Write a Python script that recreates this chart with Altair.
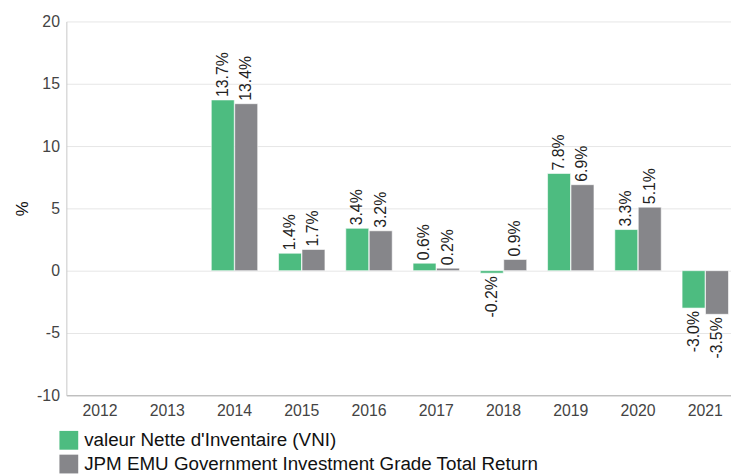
import altair as alt
import pandas as pd

years = ["2012", "2013", "2014", "2015", "2016", "2017", "2018", "2019", "2020", "2021"]
series_names = ["valeur Nette d'Inventaire (VNI)", "JPM EMU Government Investment Grade Total Return"]
vni = [None, None, 13.7, 1.4, 3.4, 0.6, -0.2, 7.8, 3.3, -3.0]
bench = [None, None, 13.4, 1.7, 3.2, 0.2, 0.9, 6.9, 5.1, -3.5]
colors = ["#4dbc80", "#86868a"]
y_ticks = [-10, -5, 0, 5, 10, 15, 20]

rows = []
for i, yr in enumerate(years):
    for name, vals in zip(series_names, [vni, bench]):
        if vals[i] is not None:
            rows.append({"year": yr, "series": name, "value": vals[i]})
df = pd.DataFrame(rows)

FONT = "Liberation Sans"

x_enc = alt.X("year:N", sort=years,
              scale=alt.Scale(domain=years, range=[0, 680], paddingInner=0.31, paddingOuter=0.155),
              axis=alt.Axis(title=None, labelAngle=0, labelFontSize=16, labelColor="#444",
                            labelFont=FONT, ticks=False, domainColor="#aaaaaa", labelPadding=7,
                            grid=False))
xo_enc = alt.XOffset("series:N", sort=series_names, scale=alt.Scale(domain=series_names, paddingInner=0.02))
y_enc = alt.Y("value:Q", scale=alt.Scale(domain=[-10, 20], nice=False),
              axis=alt.Axis(title="%", values=y_ticks, labelFontSize=16, labelColor="#444",
                            labelFont=FONT, ticks=False, domainColor="#c8c8c8", gridColor="#e6e6e6",
                            labelPadding=7, titleFont=FONT, titleFontSize=17, titleFontWeight="normal",
                            titleColor="#111", titlePadding=5,
                            labelExpr="replace(datum.label, '\u2212', '-')"))

bars = alt.Chart(df).mark_bar(stroke="white", strokeWidth=0.6).encode(
    x=x_enc, xOffset=xo_enc, y=y_enc,
    color=alt.Color("series:N", sort=series_names,
                    scale=alt.Scale(domain=series_names, range=colors),
                    legend=alt.Legend(title=None, orient="none", legendX=-7, legendY=414,
                                      symbolType="square", symbolSize=361, symbolStrokeWidth=0,
                                      symbolOpacity=1, labelFontSize=19, labelFont=FONT,
                                      labelColor="#111", rowPadding=4, labelOffset=6,
                                      labelLimit=700, direction="vertical")),
)

base_text = alt.Chart(df).transform_calculate(
    label="replace(format(datum.value, '.1f'), '\u2212', '-') + '%'"
)
pos_text = base_text.transform_filter("datum.value >= 0").mark_text(
    angle=270, align="left", baseline="middle", dx=3, fontSize=16, font=FONT, color="#222"
).encode(x=alt.X("year:N", sort=years), xOffset=alt.XOffset("series:N", sort=series_names),
         y="value:Q", text="label:N")
neg_text = base_text.transform_filter("datum.value < 0").mark_text(
    angle=270, align="right", baseline="middle", dx=-3, fontSize=16, font=FONT, color="#222"
).encode(x=alt.X("year:N", sort=years), xOffset=alt.XOffset("series:N", sort=series_names),
         y="value:Q", text="label:N")

chart = alt.layer(bars, pos_text, neg_text).properties(
    width=672, height=378,
    autosize=alt.AutoSizeParams(type="none"),
    padding={"left": 59, "top": 11, "right": 0, "bottom": 79},
).configure_view(stroke=None)

chart.save("out.html", embed_options={"renderer": "svg", "actions": False})
